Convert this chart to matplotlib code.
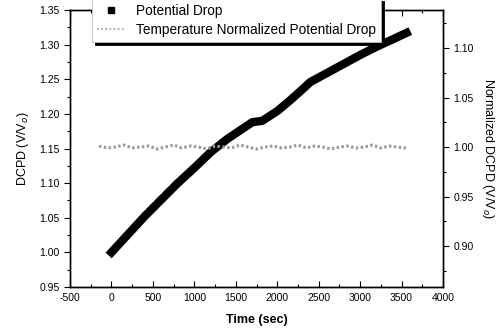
import matplotlib
matplotlib.use("Agg")
import matplotlib.pyplot as plt
from matplotlib.ticker import MultipleLocator, FormatStrFormatter

plt.rcParams['font.family'] = ['Liberation Sans', 'DejaVu Sans']
plt.rcParams['axes.unicode_minus'] = False

# Potential Drop (left axis)
pd_time = [0, 200, 400, 600, 800, 1000, 1200, 1400, 1600, 1700, 1820, 2000, 2150, 2300, 2400,
           2600, 2800, 3000, 3200, 3400, 3560]
pd_value = [1.000, 1.026, 1.052, 1.076, 1.100, 1.122, 1.145, 1.164, 1.180, 1.188, 1.190, 1.204,
            1.219, 1.235, 1.246, 1.259, 1.272, 1.285, 1.297, 1.308, 1.317]

# Temperature Normalized Potential Drop (right axis)
tn_time = [-150, -50, 50, 150, 250, 350, 450, 550, 650, 750, 850, 950, 1050, 1150, 1250, 1350,
           1450, 1550, 1650, 1750, 1850, 1950, 2050, 2150, 2250, 2350, 2450, 2550, 2650, 2750,
           2850, 2950, 3050, 3150, 3250, 3350, 3450, 3560]
tn_value = [1.001, 0.999, 1.000, 1.002, 0.999, 1.000, 1.001, 0.998, 1.000, 1.002, 0.999, 1.001,
            1.000, 0.998, 1.001, 1.000, 0.999, 1.002, 1.000, 0.998, 1.000, 1.001, 0.999, 1.000,
            1.002, 0.999, 1.001, 1.000, 0.998, 1.000, 1.001, 0.999, 1.000, 1.002, 0.999, 1.001,
            1.000, 0.999]

fig = plt.figure(figsize=(5.01, 3.33), dpi=100)
ax = fig.add_axes([70/501, 1-287/333, 373/501, 277/333])
ax2 = ax.twinx()

ax.plot(pd_time, pd_value, color='black', lw=6, solid_capstyle='projecting', zorder=3)
ax2.plot(tn_time, tn_value, color='#9a9a9a', lw=2.2, ls=(0, (0.8, 0.8)), zorder=2)

ax.set_xlim(-500, 4000)
ax.set_ylim(0.95, 1.35)
ax2.set_ylim(0.8586, 1.1384)

ax.xaxis.set_major_locator(MultipleLocator(500))
ax.xaxis.set_minor_locator(MultipleLocator(250))
ax.yaxis.set_major_locator(MultipleLocator(0.05))
ax.yaxis.set_minor_locator(MultipleLocator(0.025))
ax.yaxis.set_major_formatter(FormatStrFormatter('%.2f'))
ax2.yaxis.set_major_locator(MultipleLocator(0.05))
ax2.yaxis.set_minor_locator(MultipleLocator(0.025))
ax2.yaxis.set_major_formatter(FormatStrFormatter('%.2f'))

ax.tick_params(axis='x', which='both', direction='in', top=True, labelsize=7.5, pad=4)
ax.tick_params(axis='x', which='major', length=4, width=0.8)
ax.tick_params(axis='x', which='minor', length=2, width=0.8)
ax.tick_params(axis='y', which='both', direction='out', labelsize=7.5)
ax.tick_params(axis='y', which='major', length=4, width=0.8)
ax.tick_params(axis='y', which='minor', length=2, width=0.8)
ax2.tick_params(axis='y', which='both', direction='out', labelsize=7.5)
ax2.tick_params(axis='y', which='major', length=4, width=0.8)
ax2.tick_params(axis='y', which='minor', length=2, width=0.8)

for a in (ax, ax2):
    for s in a.spines.values():
        s.set_linewidth(1.0)

ax.set_xlabel('Time (sec)', fontsize=9, fontweight='bold', labelpad=8)
ax.set_ylabel('DCPD (V/V$_o$)', fontsize=9, labelpad=6)
ax2.set_ylabel('Normalized DCPD (V/V$_o$)', fontsize=9, rotation=270, labelpad=16)

h1 = plt.Line2D([], [], color='black', marker='s', ls='none', markersize=4)
h2 = plt.Line2D([], [], color='#9a9a9a', lw=1.2, ls=(0, (1, 1.5)))
leg = fig.legend([h1, h2], ['Potential Drop', 'Temperature Normalized Potential Drop'],
                 loc='upper left', bbox_to_anchor=(92/501, 1.005), fontsize=9.8,
                 frameon=True, fancybox=False, shadow={'color': 'black', 'alpha': 1},
                 borderpad=0.4, labelspacing=0.35, handlelength=2.0, handletextpad=0.8,
                 borderaxespad=0)
leg.get_frame().set_edgecolor('#bbbbbb')
leg.get_frame().set_linewidth(0.6)

fig.savefig('out.png', dpi=100)
